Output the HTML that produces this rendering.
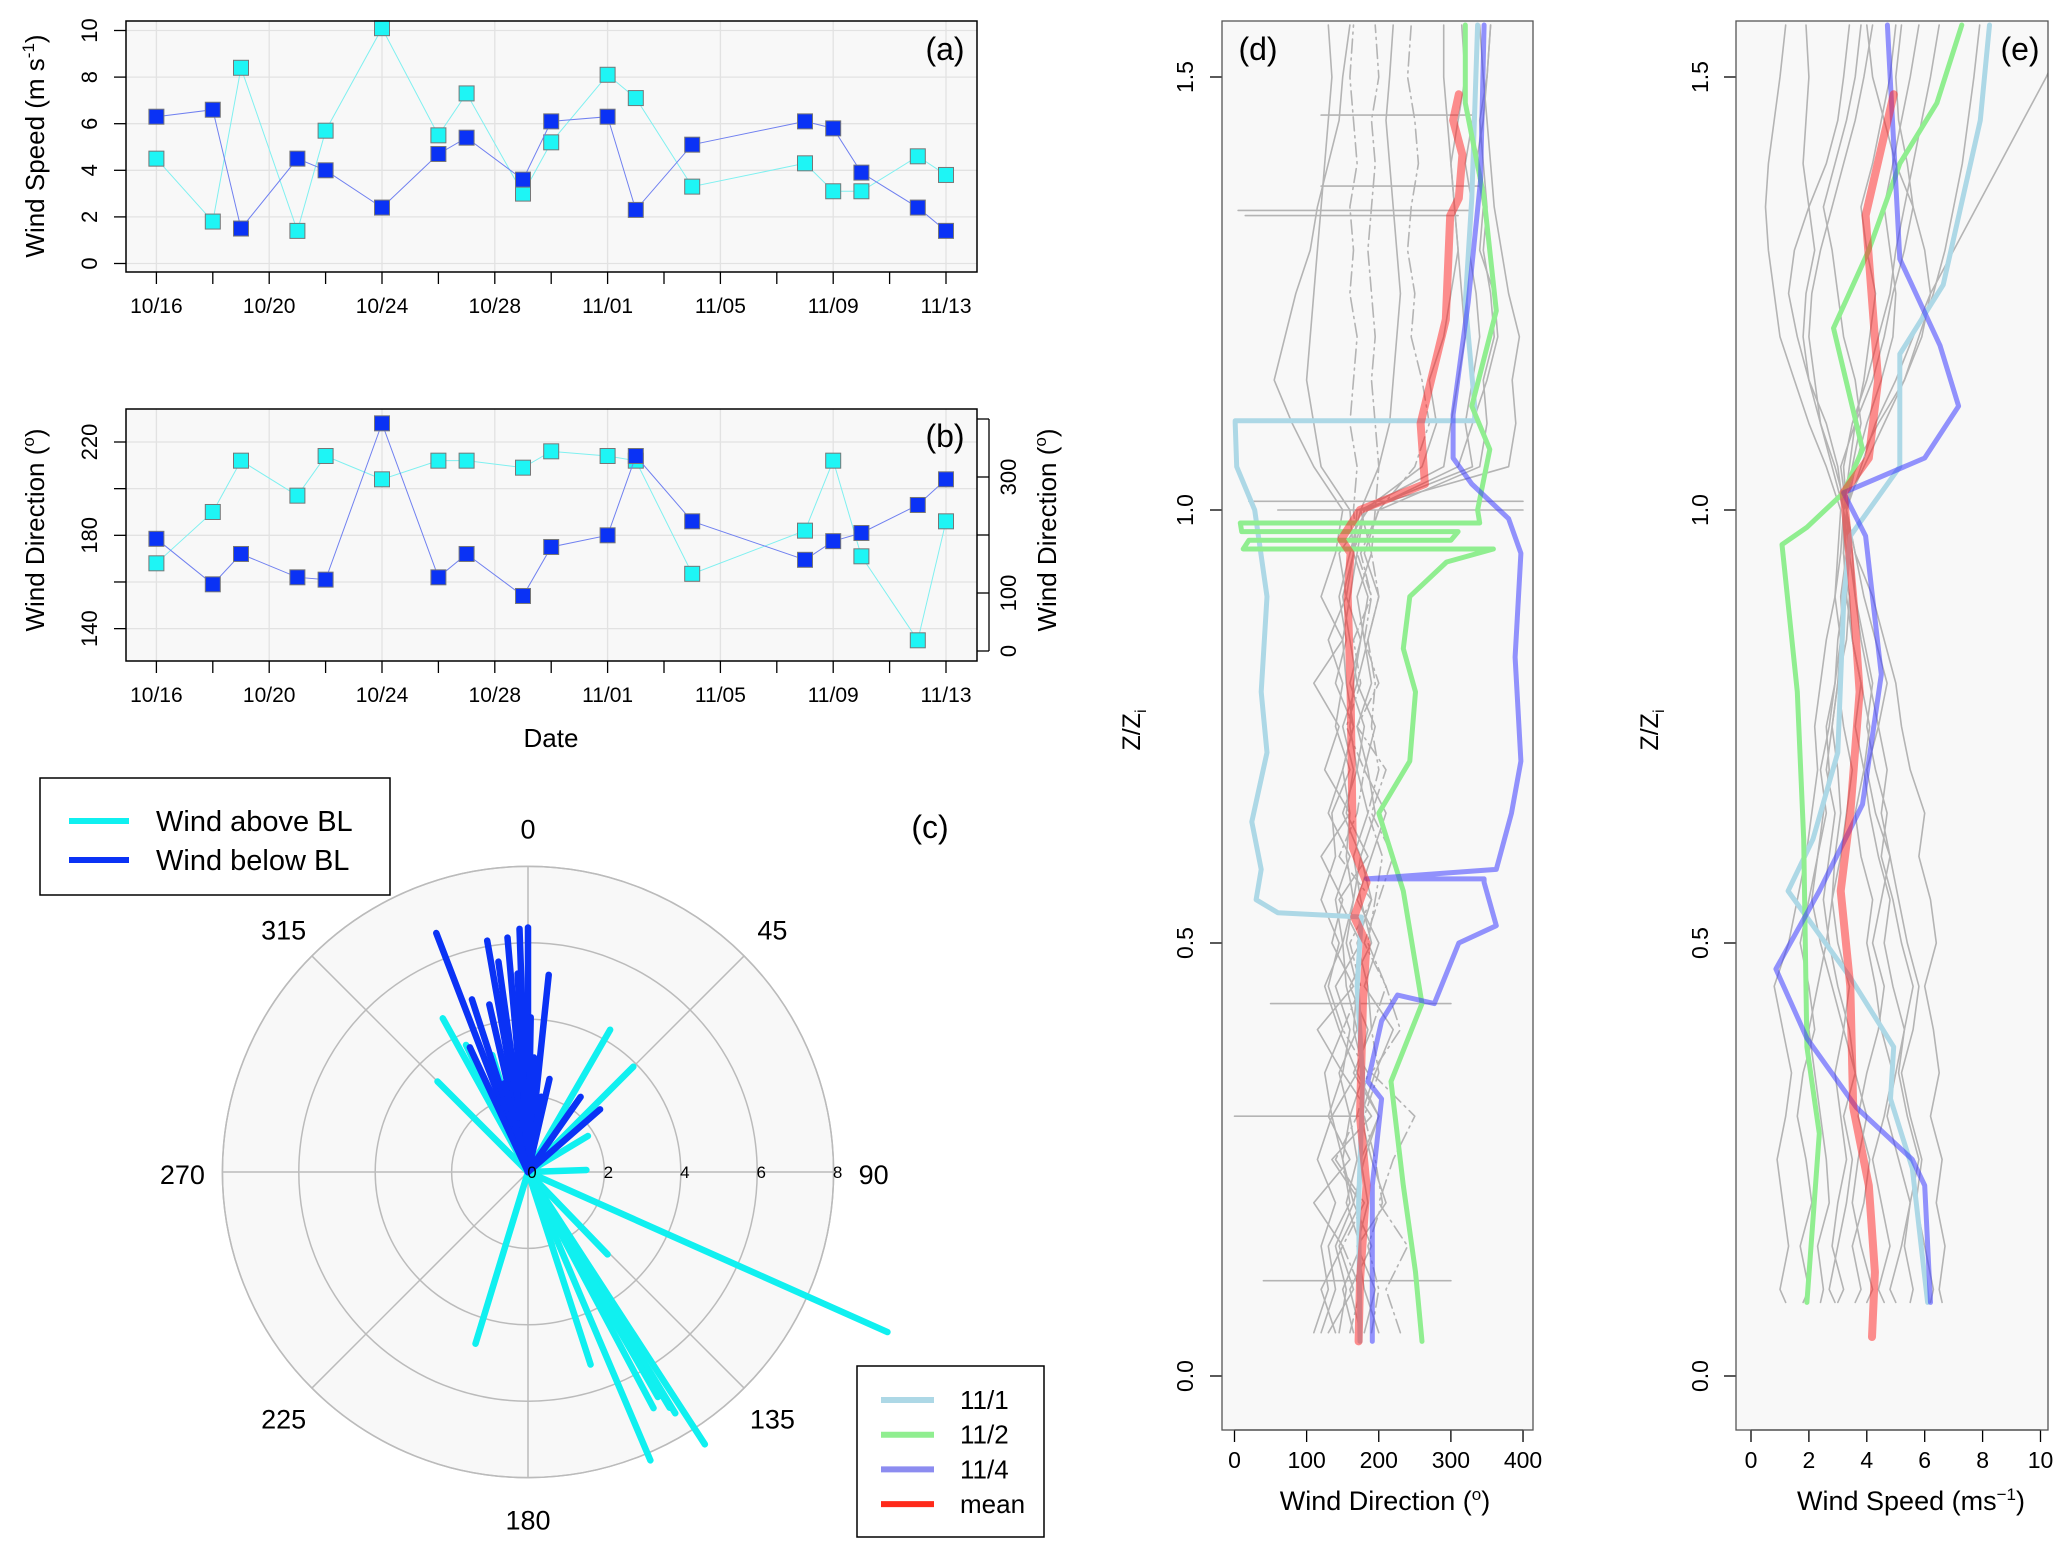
<!DOCTYPE html>
<html><head><meta charset="utf-8"><style>
html,body{margin:0;padding:0;background:#fff;}
svg{display:block;font-family:"Liberation Sans",sans-serif;}
</style></head><body>
<svg id="fig" width="2067" height="1547" viewBox="0 0 2067 1547" xmlns="http://www.w3.org/2000/svg"></svg>
<script>
// ---------- data ----------
const dayLabels = ["10/16","10/20","10/24","10/28","11/01","11/05","11/09","11/13"];
const obsDays = [0,2,3,5,6,8,10,11,13,14,16,17,19,23,24,25,27,28];
const speedAbove = [4.5,1.8,8.4,1.4,5.7,10.1,5.5,7.3,3.0,5.2,8.1,7.1,3.3,4.3,3.1,3.1,4.6,3.8];
const speedBelow = [6.3,6.6,1.5,4.5,4.0,2.4,4.7,5.4,3.6,6.1,6.3,2.3,5.1,6.1,5.8,3.9,2.4,1.4];
const dirAbove = [168,190,212,197,214,204,212,212,209,216,214,212,163.5,182,212,171,135,186];
const dirBelow = [178.5,159,172,162,161,228,162,172,154,175,180,214,186,169.5,177.5,181,193,204];
const speedTicks = [0,2,4,6,8,10];
const dirTicksLeft = [140,180,220];
const dirGridLeft = [140,160,180,200,220];
const dirTicksRight = [0,100,200,300,400];
const dirTickLabelsRight = ["0","100","","300",""];
// rose
const roseBelowAng = [339,350,355,352,358,360,6,342,335,13,35,49,1,357,347,3,10,345];
const roseBelowLen = [6.7,6.15,6.16,5.56,6.37,6.4,5.19,4.75,3.6,2.5,2.4,2.5,4.05,5.2,4.5,3.0,2.0,2.4];
const roseAboveAng = [114,157,147,148.6,149,162,197,136,30,45,331,315,334,343,59,88,150,152];
const roseAboveLen = [10.3,8.2,8.5,7.4,7.2,5.3,4.7,3.0,4.3,3.9,4.6,3.35,3.7,3.2,1.83,1.53,6.8,7.0];
const roseRings = [2,4,6,8];
const roseAngleLabels = [0,45,90,135,180,225,270,315];
// profiles d (wind direction)
const zRedD = [0.04,0.11,0.22,0.30,0.43,0.50,0.53,0.57,0.61,0.79,0.90,0.95,0.966,1.0,1.02,1.03,1.10,1.22,1.34,1.36,1.41,1.45,1.48];
const dRed = [172,174,183,174,178,183,166,183,164,161,157,161,148,174,234,264,258,293,299,311,316,303,311];
const zBlueD = [0.04,0.22,0.32,0.34,0.41,0.44,0.43,0.50,0.52,0.57,0.574,0.574,0.585,0.65,0.71,0.83,0.95,0.99,1.03,1.06,1.11,1.24,1.38,1.56];
const dBlue = [191,191,204,185,204,226,277,311,363,346,346,183,363,384,397,389,397,380,329,303,303,324,341,346];
const zGreenD = [0.04,0.12,0.22,0.34,0.43,0.56,0.65,0.71,0.79,0.84,0.90,0.94,0.955,0.955,0.965,0.965,0.975,0.975,0.985,0.985,1.0,1.07,1.12,1.23,1.36,1.47,1.56];
const dGreen = [260,251,234,217,260,234,200,243,251,234,243,294,359,12,20,300,310,10,8,340,337,354,329,363,346,320,320];
const zLBlueD = [0.04,0.20,0.34,0.45,0.53,0.535,0.55,0.585,0.64,0.72,0.79,0.90,1.0,1.05,1.10,1.103,1.103,1.12,1.24,1.36,1.56];
const dLBlue = [174,172,178,170,176,60,30,37,24,45,37,45,28,3,1,1,333,333,320,329,337];
const zsGray = [0.05,0.10,0.15,0.20,0.25,0.30,0.35,0.40,0.45,0.50,0.55,0.60,0.65,0.70,0.75,0.80,0.85,0.90,0.95,1.00,1.05,1.10,1.15,1.20,1.25,1.30,1.35,1.40,1.45,1.50,1.56];
const grayD1 = [140,120,150,110,160,130,150,115,165,135,150,120,160,125,145,110,150,120,140,150,110,80,55,70,85,105,115,130,145,150,160];
const grayD2 = [160,175,150,180,140,170,185,150,175,160,190,145,170,180,155,175,165,190,170,165,170,160,165,170,160,165,160,170,165,160,165];
const grayD3 = [190,200,185,205,195,180,200,190,210,185,195,205,185,200,190,195,185,200,190,195,200,195,190,195,190,185,190,195,190,200,195];
const grayD4 = [230,210,240,200,220,250,190,230,210,180,200,220,190,210,170,200,180,190,175,200,250,270,260,245,250,240,245,255,250,240,245];
const grayD5 = [120,140,130,160,150,135,170,145,125,150,140,160,130,150,165,140,155,145,160,175,290,300,310,320,315,310,305,300,310,320,315];
const grayD6 = [175,160,190,165,180,200,170,185,160,190,175,165,185,170,180,160,175,185,165,180,330,320,330,340,335,325,330,320,330,335,340];
const grayD7 = [200,180,170,210,190,175,195,220,180,200,170,190,210,180,195,170,185,200,180,200,340,350,345,360,355,345,350,345,340,350,355];
const grayD8 = [110,130,120,140,115,135,125,150,130,145,120,140,135,160,140,150,130,155,145,185,310,330,350,365,360,340,345,335,345,350,355];
const grayD9 = [145,155,140,165,150,160,145,170,155,150,165,155,160,150,165,155,150,160,170,180,260,280,270,290,300,310,305,300,295,290,290];
const grayD10 = [165,150,175,155,170,160,180,165,170,155,165,175,150,170,160,165,175,155,165,170,380,390,385,395,380,370,360,355,350,345,340];
const grayD11 = [180,195,170,185,175,200,165,190,185,170,190,175,195,185,170,190,180,170,190,175,200,215,220,225,230,225,220,215,210,215,220];
const grayD12 = [130,165,145,175,135,190,150,160,140,175,145,185,155,165,150,170,160,150,165,160,120,110,100,105,110,115,120,125,130,135,130];
const spikeZ = [1.346,1.34,1.374,1.456,1.01,1.0,0.30,0.11,0.43];
const spikeFrom = [5,15,120,120,20,60,0,40,50];
const spikeTo = [330,310,340,330,400,400,180,300,300];
// profiles e (wind speed)
const zRedE = [0.045,0.12,0.22,0.31,0.45,0.56,0.65,0.79,0.90,1.02,1.06,1.15,1.34,1.48];
const sRed = [4.18,4.28,4.07,3.53,3.43,3.1,3.43,3.75,3.53,3.2,4.07,4.39,3.96,4.93];
const zBlueE = [0.085,0.22,0.25,0.31,0.39,0.47,0.56,0.66,0.81,0.97,1.02,1.06,1.12,1.19,1.29,1.56];
const sBlue = [6.2,6.0,5.57,3.64,1.93,0.86,2.36,3.85,4.5,3.96,3.2,6.0,7.17,6.53,5.14,4.71];
const zGreenE = [0.085,0.28,0.38,0.62,0.79,0.96,0.98,1.02,1.07,1.21,1.30,1.40,1.47,1.56];
const sGreen = [1.93,2.36,1.93,1.82,1.6,1.07,1.93,3.2,3.85,2.85,4.07,5.14,6.42,7.28];
const zLBlueE = [0.085,0.24,0.32,0.38,0.46,0.56,0.62,0.72,0.90,0.97,1.05,1.18,1.26,1.45,1.56];
const sLBlue = [6.1,5.57,4.82,4.93,3.43,1.28,2.14,3.0,3.21,3.43,5.14,5.14,6.64,7.92,8.24];
const zsGrayE = [0.085,0.10,0.15,0.20,0.25,0.30,0.35,0.40,0.45,0.50,0.55,0.60,0.65,0.70,0.75,0.80,0.85,0.90,0.95,1.00,1.05,1.10,1.15,1.20,1.25,1.30,1.35,1.40,1.45,1.50,1.56];
const grayE1 = [1.2,1.0,1.3,1.1,0.9,1.2,1.4,1.1,0.8,1.3,1.6,1.9,2.1,2.3,2.2,2.4,2.6,2.9,3.0,3.1,2.6,2.0,1.5,1.0,0.8,0.6,0.5,0.6,0.8,1.0,1.2];
const grayE2 = [2.4,2.5,2.3,2.7,2.6,2.4,2.2,2.0,2.3,2.6,2.8,2.9,3.1,3.0,2.8,3.0,3.2,3.1,3.3,3.2,3.0,2.6,2.0,1.6,1.3,1.5,2.0,2.6,3.0,3.2,3.4];
const grayE3 = [3.0,3.2,2.8,3.0,3.3,3.1,2.9,3.2,3.4,3.0,2.8,3.1,3.3,3.5,3.2,3.0,3.3,3.4,3.2,3.3,3.5,3.8,3.6,3.2,3.0,2.8,2.5,2.9,3.3,3.6,3.8];
const grayE4 = [4.6,4.4,4.8,4.5,4.2,4.6,4.9,4.5,4.3,4.0,4.2,3.8,3.6,3.9,4.1,3.8,3.5,3.4,3.2,3.3,3.6,4.0,4.5,4.9,5.0,4.8,4.6,4.9,5.2,5.5,5.8];
const grayE5 = [5.5,5.6,5.3,5.5,5.8,5.4,5.1,5.3,4.9,4.6,4.8,4.4,4.1,3.9,3.6,3.8,3.5,3.3,3.4,3.3,3.8,4.3,5.0,5.6,6.2,7.0,7.8,8.6,9.4,10.2,11];
const grayE6 = [6.6,6.5,6.7,6.4,6.6,6.2,6.5,6.3,6.0,6.4,6.2,5.8,6.0,5.5,5.2,5.0,4.6,4.2,3.6,3.3,3.6,4.4,5.3,5.9,6.2,6.0,5.6,5.0,4.6,4.2,4.0];
const grayE7 = [3.6,3.8,3.5,3.9,4.1,3.7,4.0,4.4,4.6,4.2,4.5,4.8,4.3,4.0,4.4,4.7,4.3,3.9,3.6,3.3,3.1,3.6,4.2,4.6,4.9,5.3,5.6,5.4,5.1,5.0,5.2];
const grayE8 = [1.8,2.0,1.7,2.1,1.9,1.6,1.8,2.2,2.0,1.7,2.0,2.3,2.5,2.7,2.6,2.9,3.1,3.3,3.2,3.2,2.8,2.4,2.2,2.0,2.1,2.4,2.8,3.2,3.6,3.9,4.2];
const grayE9 = [5.0,4.8,5.2,5.5,5.1,4.7,5.0,5.3,5.6,5.2,4.9,4.5,4.7,4.3,4.0,4.2,3.9,3.6,3.4,3.2,3.4,3.6,3.9,4.1,4.3,4.0,3.8,4.2,4.5,4.8,5.0];
const grayE10 = [2.9,2.7,3.0,3.3,3.5,3.2,3.6,3.4,3.0,2.7,2.5,2.7,2.9,2.6,2.8,3.0,3.1,2.9,3.1,3.2,3.9,4.6,5.3,5.8,6.3,6.7,7.0,7.3,7.5,7.7,7.9];
const grayE11 = [4.0,4.2,3.8,3.5,3.7,4.0,3.6,3.2,2.8,2.4,2.1,2.3,2.6,2.4,2.7,2.9,3.0,3.2,3.4,3.3,2.9,2.4,2.0,1.8,1.9,2.2,2.0,1.8,1.9,2.0,1.9];
const grayE12 = [6.2,6.3,6.0,5.7,5.9,5.5,5.2,5.6,5.8,5.4,5.1,4.8,4.5,4.7,4.4,4.1,3.8,3.6,3.5,3.3,3.2,3.5,4.0,4.4,4.8,5.0,5.3,5.6,5.9,6.2,6.5];
const zTicks = [0,0.5,1.0,1.5];
const zTickLabels = ["0.0","0.5","1.0","1.5"];
const dirTicksD = [0,100,200,300,400];
const speedTicksE = [0,2,4,6,8,10];

// ---------- helpers ----------
const NS = "http://www.w3.org/2000/svg";
const svg = document.getElementById("fig");
function mk(tag, attrs, parent) {
  const e = document.createElementNS(NS, tag);
  for (const k in attrs) e.setAttribute(k, attrs[k]);
  (parent || svg).appendChild(e);
  return e;
}
function txt(s, x, y, size, parent, rot, anchor) {
  const t = mk("text", {x: x, y: y, "font-size": size, "text-anchor": anchor || "middle", fill: "#000"}, parent);
  if (rot) t.setAttribute("transform", "rotate(-90 " + x + " " + y + ")");
  t.textContent = s;
  return t;
}
function grp(parent) { return mk("g", {}, parent); }

const xa = d => 156.4 + d * 28.2;
const ya = v => 263.5 - v * 23.3;
const yb = v => 442 - (v - 220) * 2.333;
const yr = v => 651 - v * 0.58;
const xd = v => 1234.5 + v * 0.7213;
const yz = z => 1376 - z * 866;
const xe = v => 1751 + v * 28.95;

// ---------- panel a & b ----------
function tsPanel(top, bottom, name) {
  const g = grp();
  
  
  mk("rect", {x: 126, y: top, width: 851, height: bottom - top, fill: "#f8f8f8"}, g);
  for (let d = 0; d <= 28; d += 4) mk("line", {x1: xa(d), x2: xa(d), y1: top, y2: bottom, stroke: "#e2e2e2", "stroke-width": 1.3}, g);
  for (let d = 0; d <= 28; d += 2) mk("line", {x1: xa(d), x2: xa(d), y1: bottom, y2: bottom + 12, stroke: "#000", "stroke-width": 1.3}, g);
  dayLabels.forEach((s, i) => {
    const t = txt(s, xa(i * 4), bottom + 41, 21, g);
    
    
  });
  return g;
}
const ga = tsPanel(21, 272, "panel-a-wind-speed");
speedTicks.forEach(v => {
  mk("line", {x1: 126, x2: 977, y1: ya(v), y2: ya(v), stroke: "#e2e2e2", "stroke-width": 1.3}, ga);
  mk("line", {x1: 114, x2: 126, y1: ya(v), y2: ya(v), stroke: "#000", "stroke-width": 1.3}, ga);
  const t = txt(String(v), 97, ya(v), 22, ga, true);
  
  
});
function series(g, xs, ys, color, name, lineColor) {
  const pts = xs.map((x, i) => x + "," + ys[i]).join(" ");
  const pl = mk("polyline", {points: pts, fill: "none", stroke: lineColor, "stroke-width": 1}, g);
  
  
  xs.forEach((x, i) => {
    const r = mk("rect", {x: x - 7.5, y: ys[i] - 7.5, width: 15, height: 15, fill: color, stroke: "#777", "stroke-width": 1}, g);
    
    
  });
}
series(ga, obsDays.map(xa), speedAbove.map(ya), "#1ef5f5", "speed-above-bl", "#7ff0f0");
series(ga, obsDays.map(xa), speedBelow.map(ya), "#0a32f5", "speed-below-bl", "#7080f0");
mk("rect", {x: 126, y: 21, width: 851, height: 251, fill: "none", stroke: "#000", "stroke-width": 1.5}, ga);
let t;
t = txt("(a)", 945, 60, 32, ga);


t = mk("text", {x: 44, y: 146, "font-size": 26, "text-anchor": "middle", transform: "rotate(-90 44 146)"}, ga);
t.innerHTML = 'Wind Speed (m s<tspan dy="-10" font-size="17">-1</tspan><tspan dy="10">)</tspan>';



const gb = tsPanel(409, 661, "panel-b-wind-direction");
dirGridLeft.forEach(v => {
  mk("line", {x1: 126, x2: 977, y1: yb(v), y2: yb(v), stroke: "#e2e2e2", "stroke-width": 1.3}, gb);
  mk("line", {x1: 114, x2: 126, y1: yb(v), y2: yb(v), stroke: "#000", "stroke-width": 1.3}, gb);
});
dirTicksLeft.forEach(v => {
  const tt = txt(String(v), 97, yb(v), 22, gb, true);
  
  
});
dirTicksRight.forEach((v, i) => {
  mk("line", {x1: 977, x2: 989, y1: yr(v), y2: yr(v), stroke: "#000", "stroke-width": 1.3}, gb);
  if (dirTickLabelsRight[i]) {
    const tt = txt(dirTickLabelsRight[i], 1016, yr(v), 22, gb, true);
    
    
  }
});
mk("line", {x1: 989, x2: 989, y1: yr(400), y2: yr(0), stroke: "#000", "stroke-width": 1.3}, gb);
series(gb, obsDays.map(xa), dirAbove.map(yb), "#1ef5f5", "dir-above-bl", "#7ff0f0");
series(gb, obsDays.map(xa), dirBelow.map(yb), "#0a32f5", "dir-below-bl", "#7080f0");
mk("rect", {x: 126, y: 409, width: 851, height: 252, fill: "none", stroke: "#000", "stroke-width": 1.5}, gb);
t = txt("(b)", 945, 447, 32, gb);


t = mk("text", {x: 44, y: 530, "font-size": 26, "text-anchor": "middle", transform: "rotate(-90 44 530)"}, gb);
t.innerHTML = 'Wind Direction (<tspan dy="-10" font-size="17">o</tspan><tspan dy="10">)</tspan>';


t = mk("text", {x: 1056, y: 530, "font-size": 26, "text-anchor": "middle", transform: "rotate(-90 1056 530)"}, gb);
t.innerHTML = 'Wind Direction (<tspan dy="-10" font-size="17">o</tspan><tspan dy="10">)</tspan>';


t = txt("Date", 551, 747, 26, gb);



// ---------- panel c (rose) ----------
const gc = grp();


const cx = 528, cy = 1172, ru = 38.2;
mk("circle", {cx: cx, cy: cy, r: 8 * ru, fill: "#f8f8f8", stroke: "#bbb", "stroke-width": 1.5}, gc);
roseRings.forEach(r => mk("circle", {cx: cx, cy: cy, r: r * ru, fill: "none", stroke: "#bbb", "stroke-width": 1.5}, gc));
roseAngleLabels.forEach(a => {
  const rad = a * Math.PI / 180;
  mk("line", {x1: cx, y1: cy, x2: cx + 8 * ru * Math.sin(rad), y2: cy - 8 * ru * Math.cos(rad), stroke: "#bbb", "stroke-width": 1.5}, gc);
  const lr = 8 * ru + 40;
  const tt = txt(String(a), cx + lr * Math.sin(rad), cy - lr * Math.cos(rad) + 12, 27, gc);
  
  
});
function spokes(angs, lens, color, name) {
  angs.forEach((a, i) => {
    const rad = a * Math.PI / 180;
    const l = mk("line", {x1: cx, y1: cy, x2: cx + lens[i] * ru * Math.sin(rad), y2: cy - lens[i] * ru * Math.cos(rad), stroke: color, "stroke-width": 6.5, "stroke-linecap": "round"}, gc);
    
    
  });
}
spokes(roseAboveAng, roseAboveLen, "#10f0f0", "rose-spoke-above-bl");
spokes(roseBelowAng, roseBelowLen, "#0a32f5", "rose-spoke-below-bl");
[0].concat(roseRings).forEach(r => {
  const tt = txt(String(r), cx + r * ru + 4, cy + 6, 17, gc);
  
  
});
t = txt("(c)", 930, 838, 32, gc);


const lgc = grp();


mk("rect", {x: 40, y: 778, width: 350, height: 117, fill: "#fff", stroke: "#000", "stroke-width": 1.5}, lgc);
mk("line", {x1: 69, x2: 129, y1: 821, y2: 821, stroke: "#10f0f0", "stroke-width": 6}, lgc);
mk("line", {x1: 69, x2: 129, y1: 860, y2: 860, stroke: "#0a32f5", "stroke-width": 6}, lgc);
t = txt("Wind above BL", 156, 831, 29, lgc, false, "start");


t = txt("Wind below BL", 156, 870, 29, lgc, false, "start");



// ---------- panels d & e ----------
function profPanel(x0, x1, name) {
  const g = grp();
  
  
  mk("rect", {x: x0, y: 21, width: x1 - x0, height: 1409, fill: "#f8f8f8"}, g);
  const inner = grp(g);
  const cid = "clip-" + name;
  const cp = mk("clipPath", {id: cid}, g);
  mk("rect", {x: x0, y: 21, width: x1 - x0, height: 1409}, cp);
  inner.setAttribute("clip-path", "url(#" + cid + ")");
  return [g, inner];
}
function line(g, xs, ys, color, w, op, name, dash) {
  const pts = xs.map((x, i) => x.toFixed(1) + "," + ys[i].toFixed(1)).join(" ");
  const p = mk("polyline", {points: pts, fill: "none", stroke: color, "stroke-width": w, "stroke-opacity": op, "stroke-linejoin": "round", "stroke-linecap": "round"}, g);
  if (dash) p.setAttribute("stroke-dasharray", dash);
  
  
  return p;
}
function profAxes(g, x0, x1, xt, xfun, zlx, tickx) {
  zTicks.forEach((z, i) => {
    mk("line", {x1: x0 - 12, x2: x0, y1: yz(z), y2: yz(z), stroke: "#000", "stroke-width": 1.3}, g);
    const tt = txt(zTickLabels[i], tickx, yz(z), 23, g, true);
    
    
  });
  xt.forEach(v => {
    mk("line", {x1: xfun(v), x2: xfun(v), y1: 1430, y2: 1442, stroke: "#000", "stroke-width": 1.3}, g);
    const tt = txt(String(v), xfun(v), 1468, 23, g);
    
    
  });
  mk("line", {x1: xfun(xt[0]), x2: xfun(xt[xt.length - 1]), y1: 1430, y2: 1430, stroke: "#000", "stroke-width": 1.3}, g);
  mk("rect", {x: x0, y: 21, width: x1 - x0, height: 1409, fill: "none", stroke: "#555", "stroke-width": 1.3}, g);
  const zt = mk("text", {x: zlx, y: 730, "font-size": 25, "text-anchor": "middle", transform: "rotate(-90 " + zlx + " 730)"}, g);
  zt.innerHTML = 'Z/Z<tspan dy="6" font-size="16">i</tspan>';
  
  
}
const [gd, gdi] = profPanel(1222, 1533, "panel-d-direction-profiles");
const grayDs = [grayD1, grayD2, grayD3, grayD4, grayD5, grayD6, grayD7, grayD8, grayD9, grayD10, grayD11, grayD12];
grayDs.forEach((arr, i) => line(gdi, arr.map(xd), zsGray.map(yz), "#b4b4b4", 1.6, 1, "gray-direction-profile", (i === 1 || i === 2 || i === 3) ? "14 5 2 5" : null));
spikeZ.forEach((z, i) => line(gdi, [xd(spikeFrom[i]), xd(spikeTo[i])], [yz(z), yz(z)], "#b4b4b4", 1.6, 1, "gray-direction-spike"));
line(gdi, dLBlue.map(xd), zLBlueD.map(yz), "#add8e6", 5, 1, "profile-11-1-direction");
line(gdi, dGreen.map(xd), zGreenD.map(yz), "#90ee90", 5, 1, "profile-11-2-direction");
line(gdi, dBlue.map(xd), zBlueD.map(yz), "#3c3cff", 5, 0.55, "profile-11-4-direction");
line(gdi, dRed.map(xd), zRedD.map(yz), "#ff2020", 8, 0.5, "profile-mean-direction");
profAxes(gd, 1222, 1533, dirTicksD, xd, 1140, 1193);
t = txt("(d)", 1258, 60, 32, gd);


t = mk("text", {x: 1385, y: 1510, "font-size": 27, "text-anchor": "middle"}, gd);
t.innerHTML = 'Wind Direction (<tspan dy="-10" font-size="17">o</tspan><tspan dy="10">)</tspan>';



const [ge, gei] = profPanel(1736, 2048, "panel-e-speed-profiles");
const grayEs = [grayE1, grayE2, grayE3, grayE4, grayE5, grayE6, grayE7, grayE8, grayE9, grayE10, grayE11, grayE12];
grayEs.forEach(arr => line(gei, arr.map(xe), zsGrayE.map(yz), "#b4b4b4", 1.6, 1, "gray-speed-profile"));
line(gei, sLBlue.map(xe), zLBlueE.map(yz), "#add8e6", 5, 1, "profile-11-1-speed");
line(gei, sGreen.map(xe), zGreenE.map(yz), "#90ee90", 5, 1, "profile-11-2-speed");
line(gei, sBlue.map(xe), zBlueE.map(yz), "#3c3cff", 5, 0.55, "profile-11-4-speed");
line(gei, sRed.map(xe), zRedE.map(yz), "#ff2020", 8, 0.5, "profile-mean-speed");
profAxes(ge, 1736, 2048, speedTicksE, xe, 1658, 1708);
t = txt("(e)", 2020, 60, 32, ge);


t = mk("text", {x: 1911, y: 1510, "font-size": 27, "text-anchor": "middle"}, ge);
t.innerHTML = 'Wind Speed (ms<tspan dy="-10" font-size="17">−1</tspan><tspan dy="10">)</tspan>';



const lgp = grp();


mk("rect", {x: 857, y: 1366, width: 187, height: 171, fill: "#fff", stroke: "#000", "stroke-width": 1.5}, lgp);
const legNames = ["11/1", "11/2", "11/4", "mean"];
const legCols = ["#add8e6", "#90ee90", "#8c8cf0", "#ff2a1a"];
legNames.forEach((s, i) => {
  const y = 1400 + i * 34.7;
  mk("line", {x1: 881, x2: 934, y1: y, y2: y, stroke: legCols[i], "stroke-width": 6}, lgp);
  const tt = txt(s, 960, y + 9, 26, lgp, false, "start");
  
  
});
</script>
</body></html>
